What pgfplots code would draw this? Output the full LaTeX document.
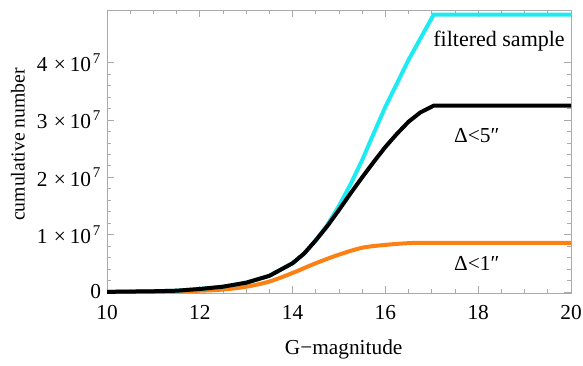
\documentclass[border=0pt]{standalone}
\usepackage{pgfplots}
\pgfplotsset{compat=1.18}
\usepackage{fontspec}
\setmainfont{Liberation Serif}
\definecolor{mycyan}{RGB}{30,234,242}
\definecolor{myorange}{RGB}{252,128,20}
\definecolor{framegray}{RGB}{170,170,170}
\newcommand{\tenp}[1]{#1\hspace{0.3em}×\hspace{0.18em}10\hspace{0.08em}\textsuperscript{7}}
\begin{document}
\begin{tikzpicture}
\useasboundingbox (0,0) rectangle (437.25pt,273.75pt);
\begin{axis}[
  at={(80.25pt,54pt)}, anchor=south west,
  scale only axis, width=348pt, height=212.25pt,
  xmin=10, xmax=20, ymin=-0.02, ymax=4.92,
  xtick={10,12,14,16,18,20},
  minor x tick num=3,
  ytick={0,1,2,3,4},
  yticklabels={0, \tenp{1}, \tenp{2}, \tenp{3}, \tenp{4}},
  minor y tick num=4,
  tick align=inside,
  major tick length=5pt, minor tick length=3pt,
  every tick/.style={framegray, line width=0.5pt},
  axis line style={framegray, line width=0.6pt},
  /pgf/number format/assume math mode=true,
  ticklabel style={font=\fontsize{16}{18}\selectfont, text=black},
  xticklabel style={yshift=-6pt},
  yticklabel style={xshift=-1pt},
  xlabel={G−magnitude}, ylabel={cumulative number},
  xlabel style={font=\fontsize{16}{18}\selectfont, at={(axis description cs:0.51,-0.2)}, anchor=center},
  ylabel style={font=\fontsize{14.8}{17}\selectfont, at={(axis description cs:-0.192,0.525)}, anchor=center},
  clip=true,
]
\addplot[myorange, line width=3pt, smooth] coordinates {
(10,0) (11,0.005) (12,0.02) (12.5,0.04) (13,0.09) (13.5,0.18) (14,0.33) (14.5,0.5) (15,0.65) (15.5,0.77) (16,0.82) (16.5,0.85) (17,0.856) (20,0.856)};
\addplot[mycyan, line width=3pt] coordinates {
(10,0) (11,0.01) (11.5,0.02) (12,0.05) (12.5,0.09) (13,0.16) (13.5,0.28) (14,0.5) (14.25,0.67) (14.5,0.9) (14.75,1.17) (15,1.5) (15.25,1.88) (15.5,2.3) (15.75,2.77) (16,3.23) (16.5,4.05) (17.04,4.84) (20,4.84)};
\addplot[black, line width=3pt] coordinates {
(10,0) (11,0.01) (11.5,0.02) (12,0.05) (12.5,0.09) (13,0.16) (13.5,0.28) (14,0.5) (14.25,0.67) (14.5,0.9) (14.75,1.15) (15,1.43) (15.25,1.72) (15.5,2.0) (15.75,2.27) (16,2.53) (16.25,2.76) (16.5,2.97) (16.75,3.13) (17.04,3.25) (20,3.25)};
\node[font=\fontsize{16.5}{18}\selectfont] at (axis cs:18.45,4.37) {filtered sample};
\node[font=\fontsize{16}{18}\selectfont] at (axis cs:17.97,2.72) {Δ<5\char"2033};
\node[font=\fontsize{16}{18}\selectfont] at (axis cs:17.97,0.5) {Δ<1\char"2033};
\end{axis}
\end{tikzpicture}
\end{document}
